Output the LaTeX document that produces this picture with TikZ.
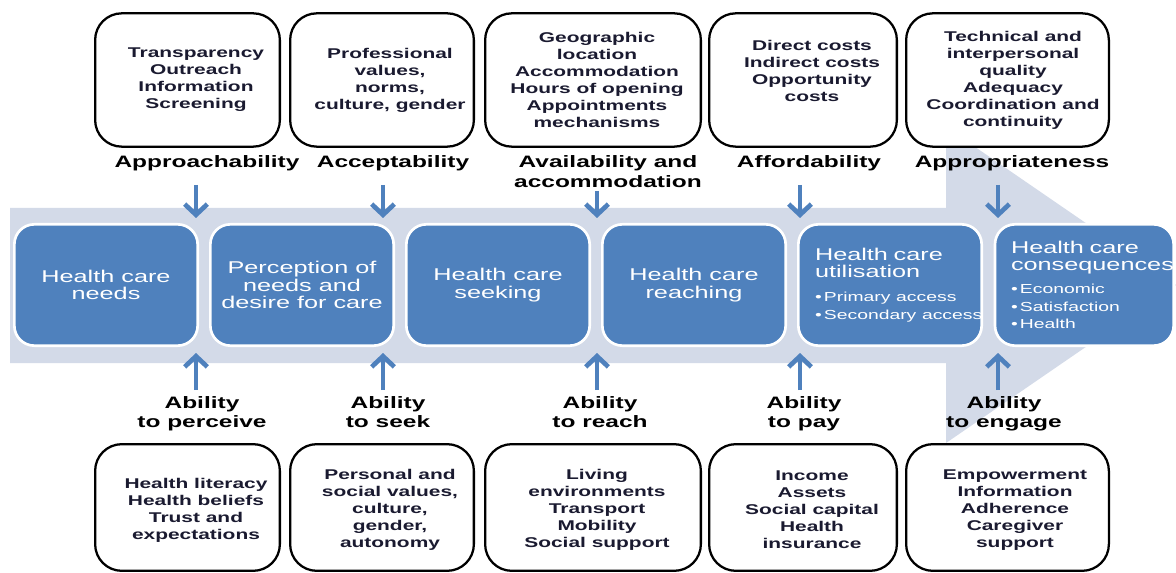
\documentclass[tikz,border=0pt]{standalone}
\usepackage{fontspec}
\setmainfont{Liberation Sans}[FakeStretch=1.48]
\usetikzlibrary{arrows.meta,positioning}

\definecolor{stageblue}{HTML}{4F81BD}
\definecolor{bandgrey}{HTML}{D3DAE8}
\definecolor{factorink}{HTML}{1A1A30}

% small bullet lines inside the last two stages
\newcommand{\stepitem}[1]{\mbox{\fontsize{9.8}{13}\selectfont\textbullet\,#1}}

\begin{document}
\begin{tikzpicture}[x=0.75pt,y=-0.75pt,
    factor box/.style={draw=black,fill=white,line width=1.7pt,rounded corners=20pt},
    factor/.style={inner sep=0pt,align=center,text=factorink,font=\bfseries\fontsize{10.6}{12.75}\selectfont},
    dimension/.style={inner sep=0pt,anchor=north,align=center,font=\bfseries\fontsize{12.4}{15}\selectfont},
    ability/.style={dimension,font=\bfseries\fontsize{12.4}{14.25}\selectfont},
    stage/.style={fill=stageblue,draw=white,line width=2pt,rounded corners=15pt,minimum width=137.5pt,minimum height=91pt,text=white,align=center,font=\fontsize{12.8}{13.1}\selectfont},
    stage detail/.style={text width=112.5pt,align=left},
    link/.style={stageblue,line width=3.5pt,-{Straight Barb[length=8pt,width=17pt]}}]

    \useasboundingbox (0,0) rectangle (1176,573);

    % the big pathway arrow behind the stages
    \fill[bandgrey] (10,208) -- (946,208) -- (946,127) -- (1176,285)
        -- (946,443) -- (946,363) -- (10,363) -- cycle;

    % stages of access
    \node[stage] (stage1) at (106,285) {Health care\\needs};

    \foreach \curr/\txt [
        evaluate = \curr as \prev using {int(\curr-1)},
    ] in {2/{Perception of\\needs and\\desire for care},3/{Health care\\seeking},4/{Health care\\reaching}}{
        \node[stage, right=7.5pt of stage\prev] (stage\curr) {\txt};
    }

    \node[stage, stage detail, right=7.5pt of stage4] (stage5)
        {Health care\\utilisation\\[5pt]\stepitem{Primary access}\\\stepitem{Secondary access}};
    \node[stage, stage detail, right=8pt of stage5, minimum width=134pt, text width=110pt] (stage6)
        {Health care\\consequences\\[4pt]\stepitem{Economic}\\\stepitem{Satisfaction}\\\stepitem{Health}};

    % supply side: boxes, dimensions
    \foreach \cx/\w/\tx/\ty/\txt [count=\i] in {
        187.5/187/196/80/{Transparency\\Outreach\\Information\\Screening},
        382/186/390/80/{Professional\\values,\\norms,\\culture, gender},
        593/218/597/80/{Geographic\\location\\Accommodation\\Hours of opening\\Appointments\\mechanisms},
        803/190/812/71/{Direct costs\\Indirect costs\\Opportunity\\costs},
        1007.5/205/1013/80/{Technical and\\interpersonal\\quality\\Adequacy\\Coordination and\\continuity}}{
        \node[factor box, minimum width=\w*0.75pt-1.7pt, minimum height=100pt] (supply\i) at (\cx,80) {};
        \node[factor] (supplytxt\i) at (\tx,\ty) {\txt};
    }

    % demand side: boxes, abilities
    \foreach \cx/\w/\tx/\txt [count=\i] in {
        187.5/187/196/{Health literacy\\Health beliefs\\Trust and\\expectations},
        382/186/390/{Personal and\\social values,\\culture,\\gender,\\autonomy},
        593/218/597/{Living\\environments\\Transport\\Mobility\\Social support},
        803/190/812/{Income\\Assets\\Social capital\\Health\\insurance},
        1007.5/205/1015/{Empowerment\\Information\\Adherence\\Caregiver\\support}}{
        \node[factor box, minimum width=\w*0.75pt-1.7pt, minimum height=95pt] (demand\i) at (\cx,507.5) {};
        \node[factor] (demandtxt\i) at (\tx,510) {\txt};
    }

    \foreach \cx/\txt [count=\i] in {207/Approachability,393/Acceptability,
        608/{Availability and\\accommodation},809/Affordability,1012/Appropriateness}{
        \node[dimension] (dim\i) at (\cx,155) {\txt};
    }

    \foreach \cx/\txt [count=\i] in {202/{Ability\\to perceive},388/{Ability\\to seek},
        600/{Ability\\to reach},804/{Ability\\to pay},1004/{Ability\\to engage}}{
        \node[ability] (ability\i) at (\cx,396) {\txt};
    }

    % arrows into the pathway, from above and below
    \foreach \ax/\ay [count=\i] in {196/185,383/185,597/191,800/185,998/185}{
        \coordinate (drop\i) at (\ax,\ay);
        \coordinate (hit\i) at (\ax,218);
        \coordinate (lift\i) at (\ax,390);
        \coordinate (push\i) at (\ax,353);
        \draw[link] (drop\i) -- (hit\i);
        \draw[link] (lift\i) -- (push\i);
    }

\end{tikzpicture}
\end{document}
